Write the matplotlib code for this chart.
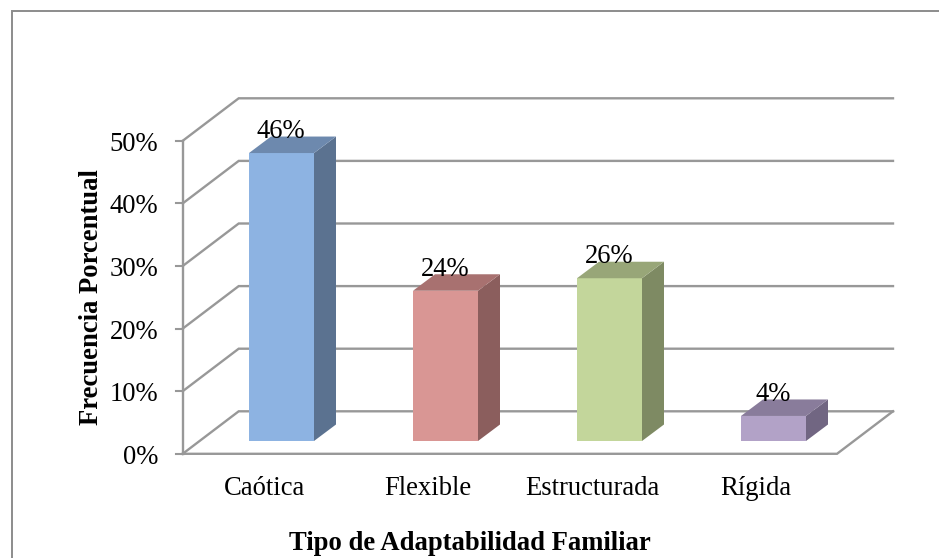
import matplotlib
matplotlib.use("Agg")
import matplotlib.pyplot as plt
from matplotlib.patches import Polygon

categories = ["Caótica", "Flexible", "Estructurada", "Rígida"]
percentages = [46, 24, 26, 4]
y_ticks = [0, 10, 20, 30, 40, 50]
y_tick_labels = ["0%", "10%", "20%", "30%", "40%", "50%"]

front_colors = ["#8DB3E2", "#D99694", "#C3D69B", "#B2A2C7"]
top_colors = ["#6D89AE", "#A87170", "#98A678", "#897C9B"]
side_colors = ["#5B7290", "#8B5E5D", "#7E8A63", "#716682"]
GRID = "#989898"
FRAME = "#8C8C8C"

W, H = 939, 558
PX_PER_CAT = 164.0       # horizontal pixels per category
PX_PER_PCT = 6.26        # vertical pixels per percentage point
CAT0_PX = 281.5
ZERO_PY = 453.8

plt.rcParams["font.family"] = ["Liberation Serif", "DejaVu Serif"]
fig = plt.figure(figsize=(W / 100, H / 100), dpi=100, facecolor="white")
ax = fig.add_axes([0, 0, 1, 1])
ax.set_xlim(-CAT0_PX / PX_PER_CAT, (W - CAT0_PX) / PX_PER_CAT)
ax.set_ylim((ZERO_PY - H) / PX_PER_PCT, ZERO_PY / PX_PER_PCT)
ax.axis("off")


def dx(px):
    """Horizontal pixel distance in category units."""
    return px / PX_PER_CAT


def dy(px):
    """Vertical pixel distance in percentage units."""
    return px / PX_PER_PCT


def x_at(px):
    return dx(px - CAT0_PX)


def y_at(py):
    return dy(ZERO_PY - py)


wall_left = x_at(182.7)
floor_right = x_at(837)
depth_x, depth_y = dx(56), dy(42.5)

# Chart frame: only the left and top edges fall inside the canvas
ax.plot([x_at(11.5), x_at(11.5), x_at(W)], [y_at(H), y_at(11), y_at(11)],
        color=FRAME, lw=1.4, zorder=1, solid_joinstyle="miter")

# Gridlines running along the side wall and back wall, with ticks and labels
for t, label in zip(y_ticks, y_tick_labels):
    ax.plot([wall_left, wall_left + depth_x, floor_right + depth_x],
            [t, t + depth_y, t + depth_y], color=GRID, lw=1.7, zorder=2,
            solid_joinstyle="miter")
    ax.plot([wall_left - dx(7), wall_left], [t, t], color=GRID, lw=1.5, zorder=2)
    ax.text(x_at(158), t - dy(3.5), label, ha="right", va="center",
            fontsize=19.2, color="black", zorder=6)

# Vertical axis line and floor outline
ax.plot([wall_left, wall_left], [0, y_ticks[-1]], color=GRID, lw=1.7, zorder=2)
ax.plot([wall_left, floor_right, floor_right + depth_x],
        [0, 0, depth_y], color=GRID, lw=1.7, zorder=2, solid_joinstyle="miter")

# Each bar is drawn as its three visible faces
bar_w = dx(65)
bar_dx, bar_dy = dx(22), dy(16.5)
base = dy(12.8)
for i, v in enumerate(percentages):
    x0 = i - bar_w / 2
    x1 = i + bar_w / 2
    top = base + v
    ax.add_patch(Polygon([(x0, base), (x1, base), (x1, top), (x0, top)],
                         fc=front_colors[i], ec="none", zorder=3))
    ax.add_patch(Polygon([(x1, base), (x1 + bar_dx, base + bar_dy),
                          (x1 + bar_dx, top + bar_dy), (x1, top)],
                         fc=side_colors[i], ec="none", zorder=3))
    ax.add_patch(Polygon([(x0, top), (x1, top), (x1 + bar_dx, top + bar_dy),
                          (x0 + bar_dx, top + bar_dy)],
                         fc=top_colors[i], ec="none", zorder=3))
    ax.text(i - dx(0.5), top + bar_dy - dy(1.5), f"{v}%", ha="center", va="baseline",
            fontsize=19.2, color="black", zorder=5)
    ax.text(i - dx(17.5), y_at(488.5), categories[i], ha="center", va="center",
            fontsize=19.2, color="black", zorder=5)

# Axis titles
ax.text(x_at(470), y_at(543), "Tipo de Adaptabilidad Familiar",
        ha="center", va="center", fontsize=19.2, fontweight="bold")
ax.text(x_at(91.5), y_at(297), "Frecuencia Porcentual", rotation=90,
        ha="center", va="center", fontsize=19.2, fontweight="bold")

fig.savefig("out.png", dpi=100, facecolor="white")
